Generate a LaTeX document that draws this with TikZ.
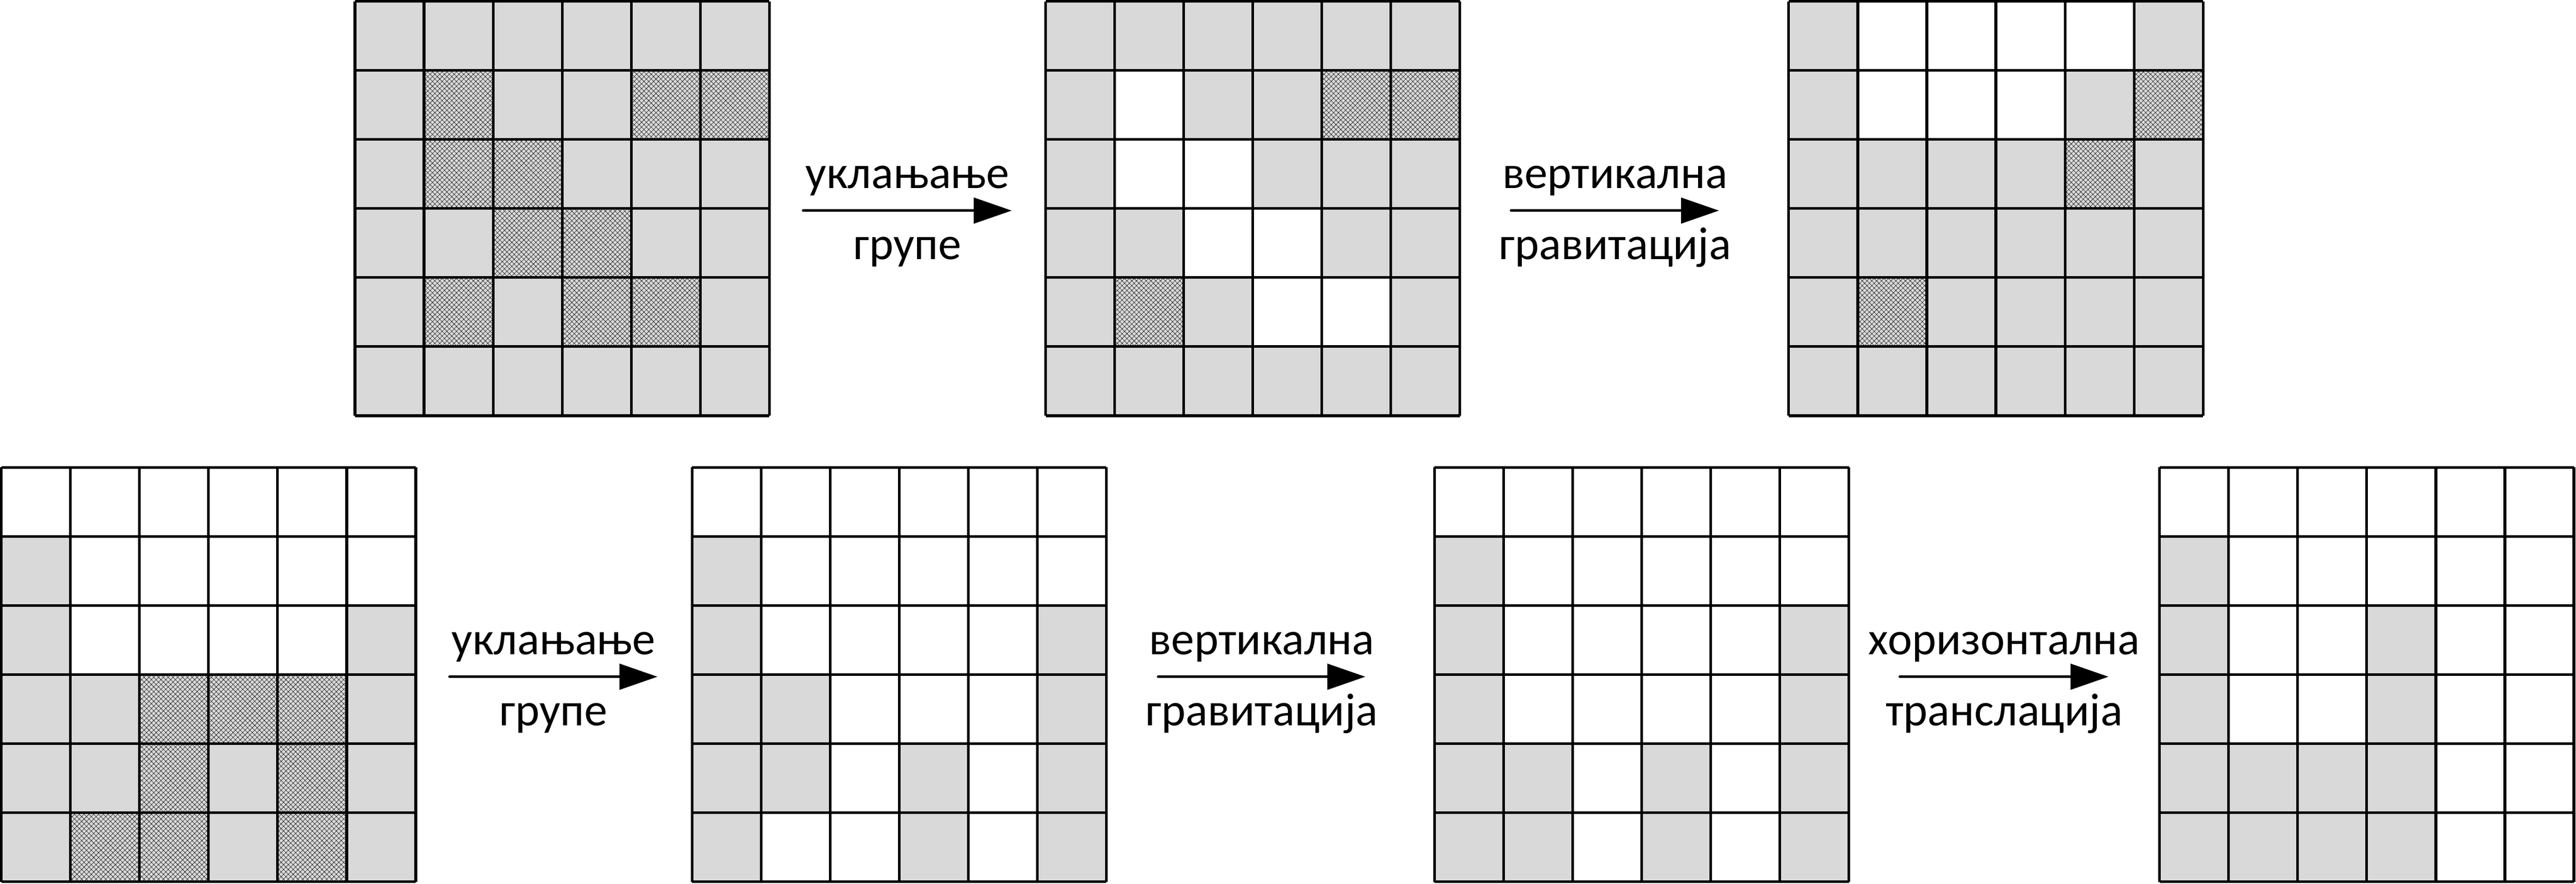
\documentclass[tikz,border=0pt]{standalone}
\usepackage{fontspec}
\setmainfont{Carlito}
\usetikzlibrary{arrows.meta,patterns.meta}

\begin{document}
\begin{tikzpicture}[
    siva/.style={fill=black!15},
    sara/.style={fill=black!15,postaction={pattern={Hatch[angle=45,distance=1.4pt,line width=0.12pt]},pattern color=black}},
    mreza/.style={line width=1.1pt},
    strelica/.style={line width=1.1pt,line cap=round,-{Triangle[length=0.55cm,width=0.37cm]}},
    natpis/.style={font=\fontsize{19}{22}\selectfont,inner sep=0pt,anchor=base}]
    \useasboundingbox (0,0) rectangle (37.3,12.8);
    % Gornji red
    \begin{scope}[shift={(5.14,6.78)}]
        \fill[siva] (0,0) rectangle (6,6);
        \foreach \x/\y in {1/4,4/4,5/4,1/3,2/3,2/2,3/2,1/1,3/1,4/1}
        \fill[sara] (\x,\y) rectangle ++(1,1);
        \draw[mreza] (0,0) grid (6,6);
    \end{scope}
    \begin{scope}[shift={(15.14,6.78)}]
        \fill[siva] (0,0) rectangle (6,6);
        \foreach \x/\y in {1/4,1/3,2/3,2/2,3/2,3/1,4/1}
        \fill[white] (\x,\y) rectangle ++(1,1);
        \foreach \x/\y in {4/4,5/4,1/1}
        \fill[sara] (\x,\y) rectangle ++(1,1);
        \draw[mreza] (0,0) grid (6,6);
    \end{scope}
    \begin{scope}[shift={(25.9,6.78)}]
        \fill[siva] (0,0) rectangle (6,6);
        \foreach \x/\y in {1/5,2/5,3/5,4/5,1/4,2/4,3/4}
        \fill[white] (\x,\y) rectangle ++(1,1);
        \foreach \x/\y in {5/4,4/3,1/1}
        \fill[sara] (\x,\y) rectangle ++(1,1);
        \draw[mreza] (0,0) grid (6,6);
    \end{scope}
    % Donji red
    \begin{scope}[shift={(0.02,0.03)}]
        \foreach \x/\y in {0/4,0/3,5/3,0/2,1/2,5/2,0/1,1/1,3/1,5/1,0/0,3/0,5/0}
        \fill[siva] (\x,\y) rectangle ++(1,1);
        \foreach \x/\y in {2/2,3/2,4/2,2/1,4/1,1/0,2/0,4/0}
        \fill[sara] (\x,\y) rectangle ++(1,1);
        \draw[mreza] (0,0) grid (6,6);
    \end{scope}
    \begin{scope}[shift={(10.02,0.03)}]
        \foreach \x/\y in {0/4,0/3,5/3,0/2,1/2,5/2,0/1,1/1,3/1,5/1,0/0,3/0,5/0}
        \fill[siva] (\x,\y) rectangle ++(1,1);
        \draw[mreza] (0,0) grid (6,6);
    \end{scope}
    \begin{scope}[shift={(20.77,0.03)}]
        \foreach \x/\y in {0/4,0/3,5/3,0/2,5/2,0/1,1/1,3/1,5/1,0/0,1/0,3/0,5/0}
        \fill[siva] (\x,\y) rectangle ++(1,1);
        \draw[mreza] (0,0) grid (6,6);
    \end{scope}
    \begin{scope}[shift={(31.27,0.03)}]
        \foreach \x/\y in {0/4,0/3,3/3,0/2,3/2,0/1,1/1,2/1,3/1,0/0,1/0,2/0,3/0}
        \fill[siva] (\x,\y) rectangle ++(1,1);
        \draw[mreza] (0,0) grid (6,6);
    \end{scope}
    % Strelice
    \foreach \i/\xa/\xb/\ya/\gore/\dole in {
        1/11.63/14.65/9.75/уклањање/групе,
        2/21.88/24.89/9.75/вертикална/гравитација,
        3/6.51/9.52/3.0/уклањање/групе,
        4/16.77/19.77/3.0/вертикална/гравитација,
        5/27.51/30.53/3.0/хоризонтална/транслација}{
        \coordinate (p\i) at (\xa,\ya);
        \coordinate (k\i) at (\xb,\ya);
        \draw[strelica] (p\i) -- (k\i)
        node[natpis,midway,yshift=0.32cm] (g\i) {\gore}
        node[natpis,midway,yshift=-0.71cm] (d\i) {\dole};
    }
\end{tikzpicture}
\end{document}
